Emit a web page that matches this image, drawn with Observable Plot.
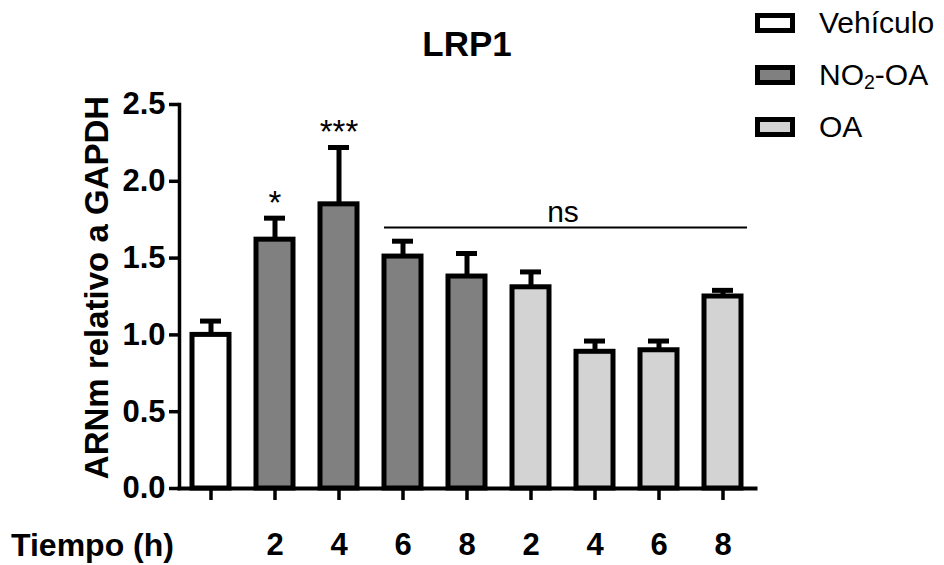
<!DOCTYPE html>
<html>
<head>
<meta charset="utf-8">
<script src="https://cdn.jsdelivr.net/npm/d3@7"></script>
<script src="https://cdn.jsdelivr.net/npm/@observablehq/plot@0.6"></script>
<style>
  body { margin: 0; background: #ffffff; }
  #wrap { position: relative; width: 944px; height: 565px; font-family: "Liberation Sans", Arial, sans-serif; color: #000; }
  #chart { position: absolute; left: 0; top: 0; }
  .title { position: absolute; left: 179px; width: 576px; top: 26px; text-align: center; font-size: 35px; font-weight: bold; line-height: 1; }
  .xname { position: absolute; left: 11px; top: 529px; font-size: 32px; font-weight: bold; line-height: 1; }
  .legend { position: absolute; left: 755px; top: -3px; }
  .legend .row { display: flex; align-items: center; height: 52px; }
  .legend .sw { width: 30px; height: 10px; border: 5px solid #000; margin-right: 24px; }
  .legend .lab { font-size: 30px; line-height: 1; white-space: nowrap; }
  .legend sub { font-size: 0.65em; vertical-align: -0.22em; line-height: 0; }
</style>
</head>
<body>
<div id="wrap">
  <div id="chart"></div>
  <div class="title">LRP1</div>
  <div class="xname">Tiempo (h)</div>
  <div class="legend" id="legend"></div>
</div>
<script>
// LRP1 mRNA relative to GAPDH, mean + SEM per condition
const categories = ["Vehículo", "NO2-OA 2 h", "NO2-OA 4 h", "NO2-OA 6 h", "NO2-OA 8 h", "OA 2 h", "OA 4 h", "OA 6 h", "OA 8 h"];
const groupOf = ["Vehículo", "NO2-OA", "NO2-OA", "NO2-OA", "NO2-OA", "OA", "OA", "OA", "OA"];
const timeLabels = ["", "2", "4", "6", "8", "2", "4", "6", "8"];
const means = [1.00, 1.62, 1.85, 1.51, 1.38, 1.31, 0.89, 0.90, 1.25];
const sem = [0.09, 0.14, 0.37, 0.10, 0.15, 0.10, 0.07, 0.06, 0.04];
const stars = ["", "*", "***", "", "", "", "", "", ""];

const groups = ["Vehículo", "NO2-OA", "OA"];
const groupFills = ["#ffffff", "#808080", "#d3d3d3"];
const yTicks = [0, 0.5, 1.0, 1.5, 2.0, 2.5];

// "ns" bracket over the later time points
const nsLevel = 1.70;
const nsFrom = "NO2-OA 6 h";
const nsTo = "OA 8 h";
const nsMid = "OA 2 h";

const rows = categories.map((c, i) => ({cat: c, group: groupOf[i], mean: means[i], sem: sem[i], star: stars[i]}));

const font = "'Liberation Sans', Arial, sans-serif";

const chart = Plot.plot({
  width: 944,
  height: 565,
  marginLeft: 179,
  marginRight: 189,
  marginTop: 104,
  marginBottom: 77,
  style: {fontFamily: font, color: "#000", background: "transparent", overflow: "visible"},
  x: {domain: categories, paddingInner: 0.42, paddingOuter: 0.21},
  y: {domain: [0, 2.5]},
  color: {domain: groups, range: groupFills},
  marks: [
    Plot.barY(rows, {x: "cat", y: "mean", fill: "group", stroke: "#000", strokeWidth: 5}),
    Plot.ruleX(rows, {x: "cat", y1: "mean", y2: d => d.mean + d.sem, stroke: "#000", strokeWidth: 5}),
    Plot.tickY(rows, {x: "cat", y: d => d.mean + d.sem, stroke: "#000", strokeWidth: 5, insetLeft: 8, insetRight: 8}),
    Plot.text(rows.filter(d => d.star), {x: "cat", y: d => d.mean + d.sem, text: "star", dy: -15, fontSize: 33}),
    Plot.ruleY([nsLevel], {x1: () => nsFrom, x2: () => nsTo, stroke: "#000", strokeWidth: 2, insetRight: -6}),
    Plot.text([nsLevel], {x: () => nsMid, y: d => d, text: () => "ns", dx: 32, dy: -15, fontSize: 30}),
    Plot.axisY({ticks: yTicks, tickFormat: d3.format(".1f"), tickSize: 10, tickPadding: 4, strokeWidth: 3.5, fontSize: 31, fontWeight: "bold", label: null}),
    Plot.axisX({tickFormat: d => timeLabels[categories.indexOf(d)], tickSize: 12, tickPadding: 32, strokeWidth: 3.5, fontSize: 31, fontWeight: "bold", label: null}),
    Plot.text(["ARNm relativo a GAPDH"], {frameAnchor: "left", textAnchor: "middle", rotate: -90, dx: -82, dy: -9, fontSize: 33, fontWeight: "bold"}),
    Plot.frame({anchor: "left", strokeWidth: 3.5}),
    Plot.frame({anchor: "bottom", strokeWidth: 4})
  ]
});
document.getElementById("chart").appendChild(chart);

// legend rows built from the group list
const legend = document.getElementById("legend");
groups.forEach((g, i) => {
  const row = document.createElement("div");
  row.className = "row";
  const sw = document.createElement("div");
  sw.className = "sw";
  sw.style.background = groupFills[i];
  const lab = document.createElement("div");
  lab.className = "lab";
  lab.innerHTML = g.replace("NO2", "NO<sub>2</sub>");
  row.appendChild(sw);
  row.appendChild(lab);
  legend.appendChild(row);
});
</script>
</body>
</html>
